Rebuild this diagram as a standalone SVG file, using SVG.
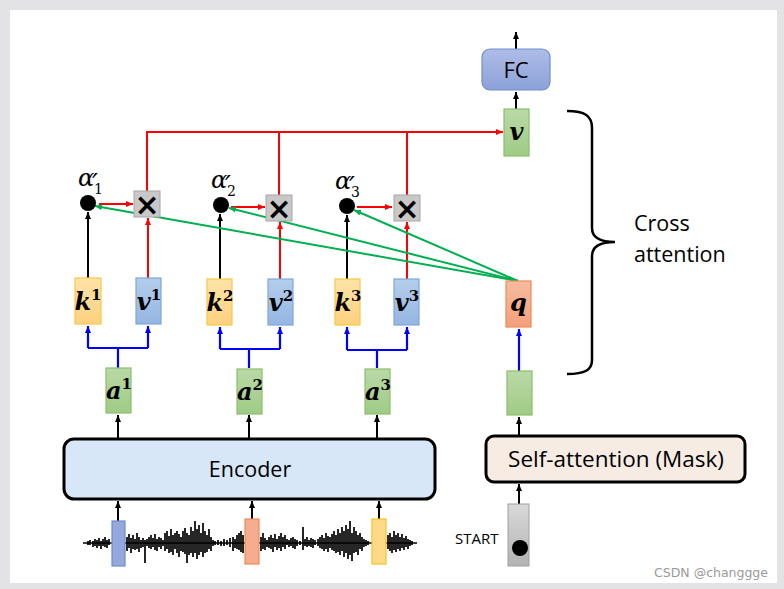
<svg xmlns="http://www.w3.org/2000/svg" width="784" height="589" viewBox="0 0 784 589">
<defs>
<marker id="ak" markerWidth="8" markerHeight="8" refX="7" refY="4" orient="auto" markerUnits="userSpaceOnUse"><path d="M0,1 L7,4 L0,7 Z" fill="#000"/></marker>
<marker id="ar" markerWidth="8" markerHeight="8" refX="7" refY="4" orient="auto" markerUnits="userSpaceOnUse"><path d="M0,1 L7,4 L0,7 Z" fill="#ff0000"/></marker>
<marker id="ab" markerWidth="8" markerHeight="8" refX="7" refY="4" orient="auto" markerUnits="userSpaceOnUse"><path d="M0,1 L7,4 L0,7 Z" fill="#0000ff"/></marker>
<marker id="ag" markerWidth="8" markerHeight="8" refX="7" refY="4" orient="auto" markerUnits="userSpaceOnUse"><path d="M0,1 L7,4 L0,7 Z" fill="#00b050"/></marker>
<linearGradient id="gk" x1="0" y1="0" x2="0" y2="1"><stop offset="0" stop-color="#fee3a8"/><stop offset="1" stop-color="#fdd17e"/></linearGradient>
<linearGradient id="gv" x1="0" y1="0" x2="0" y2="1"><stop offset="0" stop-color="#b5cdeb"/><stop offset="1" stop-color="#94b6e2"/></linearGradient>
<linearGradient id="ga" x1="0" y1="0" x2="0" y2="1"><stop offset="0" stop-color="#bad9a6"/><stop offset="1" stop-color="#9fcb86"/></linearGradient>
<linearGradient id="gq" x1="0" y1="0" x2="0" y2="1"><stop offset="0" stop-color="#f6bba0"/><stop offset="1" stop-color="#f2a07c"/></linearGradient>
<linearGradient id="gfc" x1="0" y1="0" x2="0" y2="1"><stop offset="0" stop-color="#aebde6"/><stop offset="1" stop-color="#8ca1d8"/></linearGradient>
<linearGradient id="gs" x1="0" y1="0" x2="0" y2="1"><stop offset="0" stop-color="#d9d9d9"/><stop offset="1" stop-color="#b3b3b3"/></linearGradient>
</defs>
<style>
.k{fill:url(#gk);stroke:#f9c846;stroke-width:1.2}
.v{fill:url(#gv);stroke:#7ea7dc;stroke-width:1.2}
.a{fill:url(#ga);stroke:#8abf6c;stroke-width:1.2}
.m{font-family:"DejaVu Serif","Liberation Serif",serif;font-weight:bold;font-style:italic;font-size:24px;fill:#000}
.sup{font-family:"DejaVu Serif","Liberation Serif",serif;font-weight:bold;font-style:normal;font-size:15px}
.al{font-family:"DejaVu Serif","Liberation Serif",serif;font-style:italic;font-size:24px;fill:#000}
.pr{font-size:26px;font-style:italic}
.sub{font-size:14px;font-style:normal}
.xb{fill:#c8c8c8;stroke:#a6a6a6;stroke-width:1}
.xt{font-family:"DejaVu Sans",sans-serif;font-weight:bold;font-size:30px;fill:#000}
.t{font-family:"Open Sans","Noto Sans","DejaVu Sans",sans-serif;fill:#000}
.kl{stroke:#000;stroke-width:2;fill:none}
.rl{stroke:#ff0000;stroke-width:2;fill:none}
.bl{stroke:#0000ff;stroke-width:2.2;fill:none}
.gl{stroke:#00b050;stroke-width:2;fill:none}
</style>
<rect x="0" y="0" width="784" height="589" fill="#e3e3e5"/>
<rect x="10" y="10" width="767" height="573" fill="#ffffff"/>

<g id="connectors">
<path class="kl" d="M516 49 V32" marker-end="url(#ak)"/>
<path class="kl" d="M516 109 V92" marker-end="url(#ak)"/>
<path class="rl" d="M147 191 V132 H503" marker-end="url(#ar)"/>
<path class="rl" d="M279 195 V132"/>
<path class="rl" d="M407 195 V132"/>
<path class="kl" d="M88 278 V212" marker-end="url(#ak)"/>
<path class="kl" d="M220 279 V214" marker-end="url(#ak)"/>
<path class="kl" d="M347 279 V215" marker-end="url(#ak)"/>
<path class="rl" d="M148 278 V218" marker-end="url(#ar)"/>
<path class="rl" d="M280 279 V222" marker-end="url(#ar)"/>
<path class="rl" d="M407 279 V222" marker-end="url(#ar)"/>
<path class="rl" d="M99 204 H133" marker-end="url(#ar)"/>
<path class="rl" d="M231 207 H265" marker-end="url(#ar)"/>
<path class="rl" d="M357 207 H392" marker-end="url(#ar)"/>
<path class="gl" d="M518 281 L95 206" marker-end="url(#ag)"/>
<path class="gl" d="M518 281 L229 208" marker-end="url(#ag)"/>
<path class="gl" d="M518 281 L354 210" marker-end="url(#ag)"/>
<path class="bl" d="M118 368 V348 M88 348 H148"/>
<path class="bl" d="M88 348 V326" marker-end="url(#ab)"/>
<path class="bl" d="M148 348 V326" marker-end="url(#ab)"/>
<path class="bl" d="M249 368 V349 M220 349 H280"/>
<path class="bl" d="M220 349 V327" marker-end="url(#ab)"/>
<path class="bl" d="M280 349 V327" marker-end="url(#ab)"/>
<path class="bl" d="M377 368 V350 M347 350 H407"/>
<path class="bl" d="M347 350 V327" marker-end="url(#ab)"/>
<path class="bl" d="M407 350 V327" marker-end="url(#ab)"/>
<path class="bl" d="M519 371 V329" marker-end="url(#ab)"/>
<path class="kl" d="M118 439 V415" marker-end="url(#ak)"/>
<path class="kl" d="M249 439 V415" marker-end="url(#ak)"/>
<path class="kl" d="M377 439 V415" marker-end="url(#ak)"/>
<path class="kl" d="M118 521 V501" marker-end="url(#ak)"/>
<path class="kl" d="M252 519 V501" marker-end="url(#ak)"/>
<path class="kl" d="M379 519 V501" marker-end="url(#ak)"/>
<path class="kl" d="M519 436 V417" marker-end="url(#ak)"/>
<path class="kl" d="M519 504 V484" marker-end="url(#ak)"/>
</g>

<g id="fc"><rect x="482" y="49" width="68" height="41" rx="8" fill="url(#gfc)" stroke="#6f8fd0" stroke-width="1.2"/><text class="t" x="516" y="78" font-size="22" text-anchor="middle">FC</text></g>
<g id="vout"><rect class="a" x="504" y="109" width="25" height="47"/><text class="m" x="516.5" y="140" text-anchor="middle">v</text></g>

<g id="brace"><path d="M567 111 C585 111 592 116 592 128 V228 C592 238 600 242 615 242 C600 242 592 246 592 256 V360 C592 370 585 374 567 374" fill="none" stroke="#000" stroke-width="2.5"/>
<text class="t" x="634" y="231" font-size="21.5">Cross</text><text class="t" x="634" y="262" font-size="21.5">attention</text></g>

<g id="alpha1"><text class="al" x="78" y="186">α<tspan class="pr" x="92" y="192">′</tspan><tspan class="sub" x="94" y="194">1</tspan></text><circle cx="88" cy="203" r="8"/></g>
<g id="alpha2"><text class="al" x="211" y="188">α<tspan class="pr" x="225" y="194">′</tspan><tspan class="sub" x="227" y="196">2</tspan></text><circle cx="221" cy="205" r="8"/></g>
<g id="alpha3"><text class="al" x="335" y="189">α<tspan class="pr" x="349" y="195">′</tspan><tspan class="sub" x="351" y="197">3</tspan></text><circle cx="347" cy="206" r="8"/></g>

<g id="x1"><rect class="xb" x="134" y="191" width="26" height="26"/><text class="xt" x="147" y="215" text-anchor="middle">×</text></g>
<g id="x2"><rect class="xb" x="266" y="195" width="26" height="26"/><text class="xt" x="279" y="219" text-anchor="middle">×</text></g>
<g id="x3"><rect class="xb" x="394" y="195" width="26" height="26"/><text class="xt" x="407" y="219" text-anchor="middle">×</text></g>

<g id="k1"><rect class="k" x="75" y="278" width="26" height="46"/><text class="m" x="88" y="310" text-anchor="middle">k<tspan class="sup" dy="-10">1</tspan></text></g>
<g id="v1"><rect class="v" x="136" y="278" width="25" height="46"/><text class="m" x="149" y="310" text-anchor="middle">v<tspan class="sup" dy="-10">1</tspan></text></g>
<g id="k2"><rect class="k" x="207" y="279" width="25" height="46"/><text class="m" x="220" y="311" text-anchor="middle">k<tspan class="sup" dy="-10">2</tspan></text></g>
<g id="v2"><rect class="v" x="268" y="279" width="25" height="46"/><text class="m" x="281" y="311" text-anchor="middle">v<tspan class="sup" dy="-10">2</tspan></text></g>
<g id="k3"><rect class="k" x="335" y="279" width="25" height="46"/><text class="m" x="348" y="311" text-anchor="middle">k<tspan class="sup" dy="-10">3</tspan></text></g>
<g id="v3"><rect class="v" x="394" y="279" width="25" height="46"/><text class="m" x="407" y="311" text-anchor="middle">v<tspan class="sup" dy="-10">3</tspan></text></g>
<g id="q"><rect x="506" y="281" width="25" height="46" fill="url(#gq)" stroke="#ee8a55" stroke-width="1.2"/><text class="m" x="518.5" y="311" text-anchor="middle">q</text></g>

<g id="a1"><rect class="a" x="106" y="368" width="25" height="45"/><text class="m" x="119" y="399" text-anchor="middle">a<tspan class="sup" dy="-10">1</tspan></text></g>
<g id="a2"><rect class="a" x="237" y="369" width="25" height="45"/><text class="m" x="250" y="400" text-anchor="middle">a<tspan class="sup" dy="-10">2</tspan></text></g>
<g id="a3"><rect class="a" x="365" y="369" width="25" height="45"/><text class="m" x="378" y="400" text-anchor="middle">a<tspan class="sup" dy="-10">3</tspan></text></g>
<g id="h"><rect class="a" x="507" y="371" width="25" height="44"/></g>

<g id="encoder"><rect x="64" y="439" width="371" height="60" rx="10" fill="#d8e7f7" stroke="#000" stroke-width="3"/><text class="t" x="250" y="477" font-size="21.5" text-anchor="middle">Encoder</text></g>
<g id="selfatt"><rect x="486" y="436" width="259" height="46" rx="8" fill="#f7ece4" stroke="#000" stroke-width="3"/><text class="t" x="616" y="467" font-size="22.5" text-anchor="middle">Self-attention (Mask)</text></g>

<g id="wave"><path fill="none" stroke="#000" stroke-width="1.7" d="M83 543 H417
M88 541v4M90 540v5M93 541v6M95 539v7M97 540v8M99 538v8M101 541v8M103 539v7M105 537v10M107 540v8M109 539v6
M127 537v14M129 534v14M131 538v15M133 535v14M135 539v11M137 533v16M139 537v15M141 540v8M143 538v9M145 540v23M147 539v7M149 537v11M151 535v14M153 538v9M155 534v16M157 539v12M159 537v10M161 538v11M163 540v6M165 533v18M167 531v18M169 536v17M171 529v23M173 535v20M175 533v16M177 531v22M179 534v23M181 537v14M183 531v21M185 528v26M187 533v30M189 535v20M191 527v26M193 531v26M195 521v32M197 529v30M199 525v30M201 533v19M203 523v34M205 531v22M207 535v17M209 529v20M211 537v14M213 540v6M215 541v4M218 540v5M221 541v5M224 539v7M227 540v5M230 538v9M233 537v14M235 539v9M237 535v14M239 533v17M241 531v21M243 535v18
M261 537v14M263 533v16M265 538v12M267 540v7M269 537v11M271 535v14M273 538v14M275 534v13M277 539v11M279 536v12M281 533v18M283 537v10M285 535v14M287 539v6M289 540v7M291 538v8M293 537v11M295 539v10M297 540v6M300 541v4M303 527v23M305 539v7M307 537v10M309 540v6M311 538v9M313 539v9M315 540v5M318 539v7M320 537v11M322 535v14M324 538v13M326 533v16M328 536v16M330 537v11M332 534v16M334 531v20M336 535v18M338 529v23M340 533v22M342 527v24M344 531v26M346 525v28M348 529v30M350 521v34M352 533v28M354 527v26M356 531v21M358 535v20M360 533v16M362 537v14M364 539v8M366 540v6M368 541v4
M388 535v14M390 533v18M392 537v16M394 531v19M396 535v17M398 533v16M400 537v14M402 534v14M404 538v12M406 536v11M408 539v10M410 540v6M412 541v4"/>
<rect x="112" y="521" width="13" height="45" fill="#94a8dc" stroke="#6f8bcf" stroke-width="1.2"/>
<rect x="245" y="519" width="14" height="45" fill="#f4ad8f" stroke="#ee8a55" stroke-width="1.2"/>
<rect x="372" y="519" width="14" height="45" fill="#fed98c" stroke="#f9c41f" stroke-width="1.2"/>
</g>

<g id="start"><rect x="508" y="504" width="21" height="62" fill="url(#gs)" stroke="#a0a0a0" stroke-width="1"/><circle cx="520" cy="548" r="8"/><text class="t" x="455" y="544" font-size="15">START</text></g>
<text x="768" y="577" font-family="'DejaVu Sans','Liberation Sans',sans-serif" font-size="12.5" fill="#9a9a9a" text-anchor="end">CSDN @changgge</text>
</svg>
